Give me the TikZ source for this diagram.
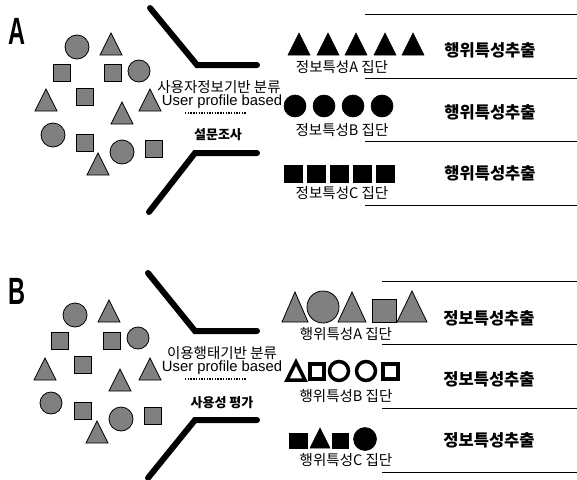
\documentclass[tikz,border=0pt]{standalone}
\usepackage{fontspec}
\setmainfont{Liberation Sans}
\newfontfamily\kr{Noto Sans CJK KR}
\begin{document}
\begin{tikzpicture}[x=1pt,y=-1pt,
  gshape/.style={fill=black!50,draw=black,line width=0.8pt},
  bshape/.style={fill=black,draw=black,line width=0.6pt},
  oshape/.style={fill=white,draw=black,line width=3.5pt},
  funnel/.style={line width=6pt,line cap=round,line join=miter},
  sep/.style={line width=0.9pt},
  dots/.style={line width=2pt,dash pattern=on 1.4pt off 1.3pt},
  panel/.style={font=\fontsize{38}{38}\selectfont\bfseries},
  krtext/.style={font=\kr\fontsize{14.5}{14.5}\selectfont,inner sep=0pt},
  entext/.style={font=\fontsize{14.8}{14.8}\selectfont,inner sep=0pt},
  krbold/.style={font=\kr\bfseries\fontsize{13}{13}\selectfont,inner sep=0pt},
  ttl/.style={font=\kr\bfseries\fontsize{16.5}{16.5}\selectfont,inner sep=0pt}]
\useasboundingbox (0,0) rectangle (577,479);
\fill[white] (0,0) rectangle (577,479);

% ---------- Panel A ----------
\node[panel,inner sep=0pt] (labA) at (17,31) {\scalebox{0.62}[1]{A}};
% scattered shapes
\foreach \x/\y/\r in {77/47/12,139/71/11,53/135/12,122/152/12}
  \draw[gshape] (\x,\y) circle (\r);
\foreach \x/\y in {111/44,46/100,150/100,122/113,98/164}
  \draw[gshape] (\x-11,\y+11) -- (\x,\y-11) -- (\x+11,\y+11) -- cycle;
\foreach \x/\y in {62/73,113/73,85/97,85/143,154/149}
  \draw[gshape] (\x-8.5,\y-8.5) rectangle (\x+8.5,\y+8.5);
% funnel
\coordinate (a1) at (150,8);
\coordinate (a2) at (197,65);
\coordinate (a3) at (257,65);
\coordinate (a4) at (149,212);
\coordinate (a5) at (195,153);
\coordinate (a6) at (257,153);
\draw[funnel] (a1) -- (a2) -- (a3);
\draw[funnel] (a4) -- (a5) -- (a6);
% texts
\node[krtext] (tA1) at (219,87) {사용자정보기반 분류};
\node[entext] (tA2) at (222,102) {User profile based};
\coordinate (dA1) at (185,113);
\coordinate (dA2) at (247,113);
\draw[dots] (dA1) -- (dA2);
\node[krbold] (tA3) at (218,135) {설문조사};
% separators
\foreach \i/\y in {1/14,2/78,3/141,4/205}{
  \coordinate (la\i) at (365,\y);
  \coordinate (ra\i) at (577,\y);
  \draw[sep] (la\i) -- (ra\i);
}
% groups
\foreach \x in {299,328,356,385,413}
  \draw[bshape] (\x-11,55) -- (\x,33) -- (\x+11,55) -- cycle;
\foreach \x in {295,324,353,382}
  \draw[bshape] (\x,106) circle (11);
\foreach \x in {293,316,339,362,385}
  \draw[bshape] (\x-9,165) rectangle (\x+9,182);
\node[krtext] (gA1) at (342,67) {정보특성A 집단};
\node[krtext] (gA2) at (342,130) {정보특성B 집단};
\node[krtext] (gA3) at (342,193) {정보특성C 집단};
\node[ttl] (hA1) at (490,50) {행위특성추출};
\node[ttl] (hA2) at (490,112) {행위특성추출};
\node[ttl] (hA3) at (490,173) {행위특성추출};

% ---------- Panel B ----------
\node[panel,inner sep=0pt] (labB) at (17,291) {\scalebox{0.62}[1]{B}};
\foreach \x/\y/\r in {75/315/12,138/338/11,51/403/11,121/419/12}
  \draw[gshape] (\x,\y) circle (\r);
\foreach \x/\y in {109/311,45/369,150/369,120/380,97/432}
  \draw[gshape] (\x-11,\y+11) -- (\x,\y-11) -- (\x+11,\y+11) -- cycle;
\foreach \x/\y in {60/341,112/341,83/365,83/411,153/416}
  \draw[gshape] (\x-8.5,\y-8.5) rectangle (\x+8.5,\y+8.5);
\coordinate (b1) at (148,273);
\coordinate (b2) at (195,331);
\coordinate (b3) at (257,331);
\coordinate (b4) at (148,478);
\coordinate (b5) at (195,420);
\coordinate (b6) at (257,420);
\draw[funnel] (b1) -- (b2) -- (b3);
\draw[funnel] (b4) -- (b5) -- (b6);
\node[krtext] (tB1) at (222,353) {이용행태기반 분류};
\node[entext] (tB2) at (222,368) {User profile based};
\coordinate (dB1) at (185,379);
\coordinate (dB2) at (247,379);
\draw[dots] (dB1) -- (dB2);
\node[krbold] (tB3) at (222,403) {사용성 평가};
\foreach \i/\y in {1/281,2/344,3/408,4/472}{
  \coordinate (lb\i) at (382,\y);
  \coordinate (rb\i) at (577,\y);
  \draw[sep] (lb\i) -- (rb\i);
}
% row A (mixed gray)
\draw[gshape] (282,322) -- (295,292) -- (308,322) -- cycle;
\draw[gshape] (323,307) circle (16);
\draw[gshape] (338,322) -- (352,292) -- (366,322) -- cycle;
\draw[gshape] (372,299) rectangle (396,322);
\draw[gshape] (397,322) -- (412,291) -- (427,322) -- cycle;
% row B (outlined)
\draw[oshape] (287,380) -- (296,362) -- (305,380) -- cycle;
\draw[oshape] (310,364) rectangle (324,379);
\draw[oshape] (339,371) circle (9.5);
\draw[oshape] (366,371) circle (9.5);
\draw[oshape] (383,364) rectangle (398,379);
% row C (black)
\draw[bshape] (289,433) rectangle (307,448);
\draw[bshape] (310,448) -- (320,428) -- (330,448) -- cycle;
\draw[bshape] (332,433) rectangle (348,448);
\draw[bshape] (365,439) circle (11.5);
\node[krtext] (gB1) at (346,334) {행위특성A 집단};
\node[krtext] (gB2) at (346,396) {행위특성B 집단};
\node[krtext] (gB3) at (346,460) {행위특성C 집단};
\node[ttl] (hB1) at (489,318) {정보특성추출};
\node[ttl] (hB2) at (489,379) {정보특성추출};
\node[ttl] (hB3) at (489,440) {정보특성추출};
\end{tikzpicture}
\end{document}
